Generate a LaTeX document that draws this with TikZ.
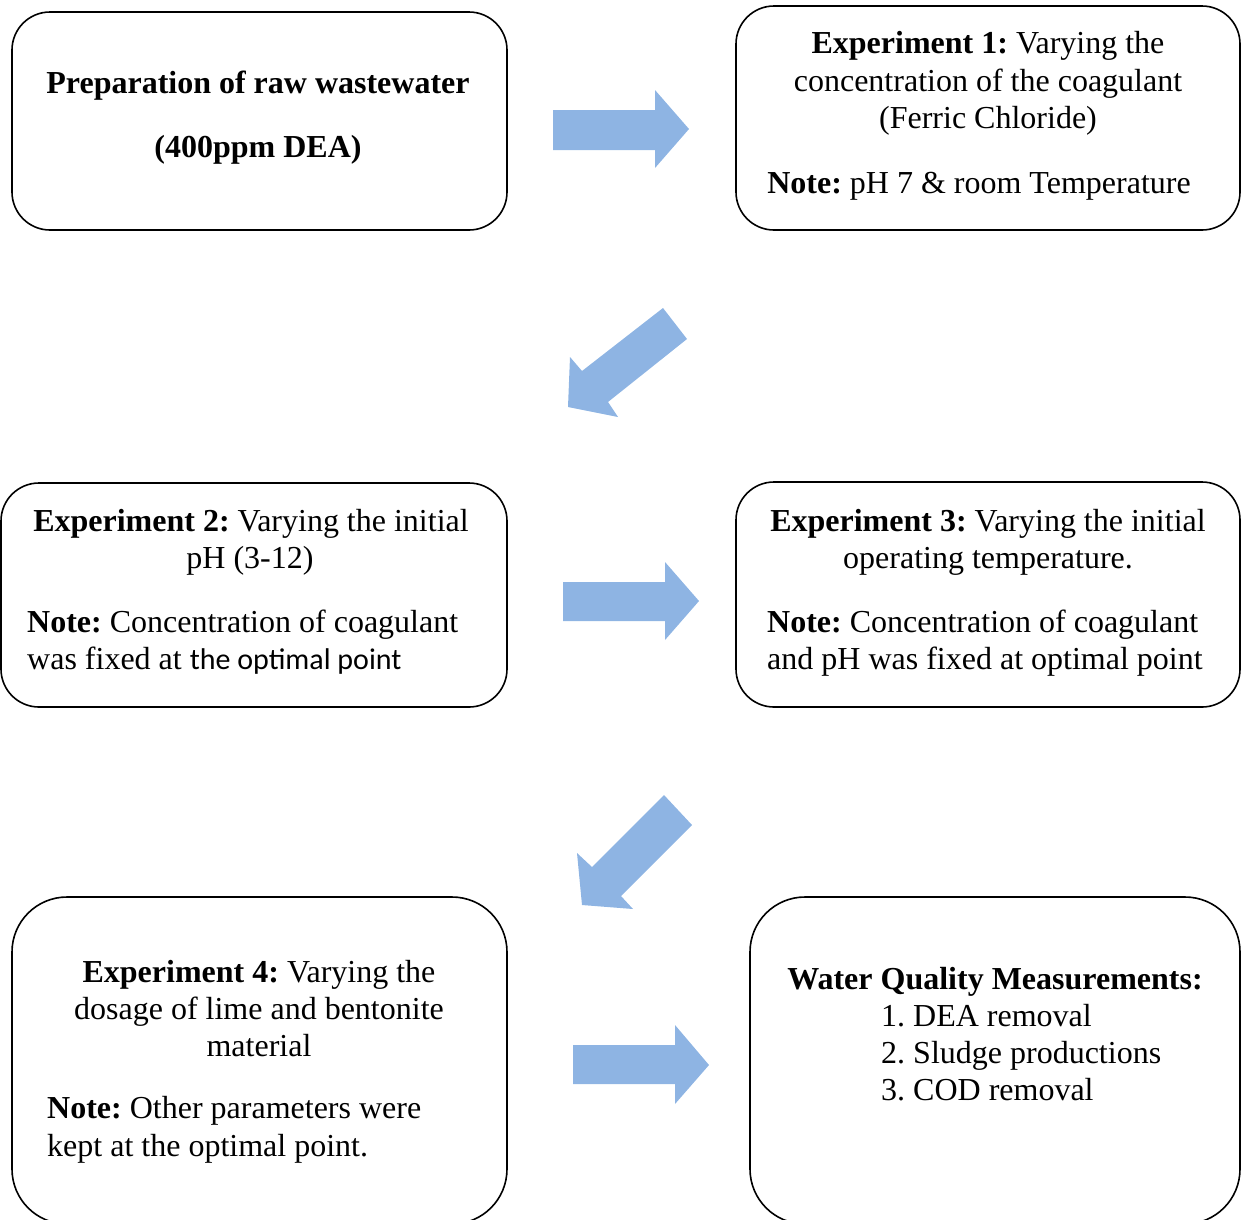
\documentclass[tikz,border=0pt]{standalone}
\usepackage{fontspec}
\setmainfont{Liberation Serif}
\newfontfamily\calib{Carlito}
\definecolor{arrowblue}{HTML}{8EB4E3}
\frenchspacing
\begin{document}
\begin{tikzpicture}[x=1pt,y=-1pt,
  box/.style={draw=black,line width=1.6pt,rounded corners=38pt},
  bigbox/.style={draw=black,line width=1.6pt,rounded corners=55pt},
  blockarrow/.style={fill=arrowblue,draw=none},
  txt/.style={anchor=base,inner sep=0pt,font=\fontsize{32}{37}\selectfont\frenchspacing},
  ltxt/.style={anchor=base west,inner sep=0pt,font=\fontsize{32}{37}\selectfont\frenchspacing}]
\useasboundingbox (0,0) rectangle (1247,1219);
\clip (0,0) rectangle (1247,1219);
% boxes
\draw[box] (12,12) rectangle (507,230);
\draw[box] (736,6) rectangle (1240,230);
\draw[box] (1,483) rectangle (507,707);
\draw[box] (736,482) rectangle (1240,707);
\draw[bigbox] (12,897) rectangle (507,1224);
\draw[bigbox] (750,897) rectangle (1240,1224);
% block arrows
\fill[blockarrow] (553,110) -- (655,110) -- (655,90) -- (689,129) -- (655,168) -- (655,150) -- (553,150) -- cycle;
\fill[blockarrow] (663,308) -- (687,339) -- (608,402) -- (618,417) -- (568,407) -- (570,357) -- (582,371) -- cycle;
\fill[blockarrow] (563,582) -- (665,582) -- (665,562) -- (699,601) -- (665,640) -- (665,621) -- (563,621) -- cycle;
\fill[blockarrow] (664,795) -- (692,825) -- (621,896) -- (633,909) -- (582,905) -- (577,853) -- (592,867) -- cycle;
\fill[blockarrow] (573,1045) -- (675,1045) -- (675,1025) -- (709,1065) -- (675,1104) -- (675,1084) -- (573,1084) -- cycle;
% box A
\node[txt] (a1) at (258,93) {\textbf{Preparation of raw wastewater}};
\node[txt] (a2) at (258,157) {\textbf{(400ppm DEA)}};
% box B
\node[txt] (b1) at (988,53) {\textbf{Experiment 1:} Varying the};
\node[txt] (b2) at (988,91) {concentration of the coagulant};
\node[txt] (b3) at (988,128) {(Ferric Chloride)};
\node[txt] (b4) at (979,193) {\textbf{Note:} pH 7 \& room Temperature};
% box C
\node[txt] (c1) at (251,531) {\textbf{Experiment 2:} Varying the initial};
\node[txt] (c2) at (250,568) {pH (3-12)};
\node[ltxt] (c3) at (27,632) {\textbf{Note:} Concentration of coagulant};
\node[ltxt] (c4) at (27,669) {was fixed at {\calib\fontsize{30}{37}\selectfont the optimal point}};
% box D
\node[txt] (d1) at (988,531) {\textbf{Experiment 3:} Varying the initial};
\node[txt] (d2) at (988,568) {operating temperature.};
\node[ltxt] (d3) at (767,632) {\textbf{Note:} Concentration of coagulant};
\node[ltxt] (d4) at (767,669) {and pH was fixed at optimal point};
% box E
\node[txt] (e1) at (259,982) {\textbf{Experiment 4:} Varying the};
\node[txt] (e2) at (259,1019) {dosage of lime and bentonite};
\node[txt] (e3) at (259,1056) {material};
\node[ltxt] (e4) at (47,1118) {\textbf{Note:} Other parameters were};
\node[ltxt] (e5) at (47,1156) {kept at the optimal point.};
% box F
\node[txt] (f1) at (995,989) {\textbf{Water Quality Measurements:}};
\node[ltxt] (f2) at (881,1026) {1. DEA removal};
\node[ltxt] (f3) at (881,1063) {2. Sludge productions};
\node[ltxt] (f4) at (881,1100) {3. COD removal};
\end{tikzpicture}
\end{document}
